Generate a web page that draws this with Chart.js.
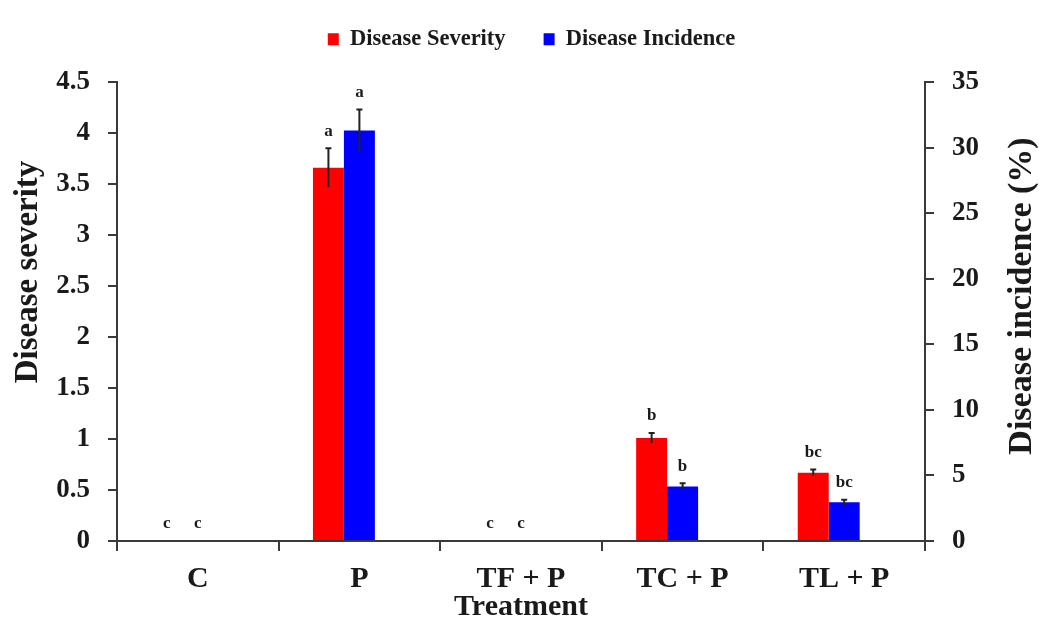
<!DOCTYPE html>
<html>
<head>
<meta charset="utf-8">
<script src="https://cdn.jsdelivr.net/npm/chart.js@4/dist/chart.umd.min.js"></script>
<style>
  html, body { margin: 0; padding: 0; background: #fff; }
  #wrap { width: 1039px; height: 627px; }
</style>
</head>
<body>
<div id="wrap"><canvas id="chart"></canvas></div>
<script>
// Data
const treatments = ["C", "P", "TF + P", "TC + P", "TL + P"];
const severity = [0, 3.66, 0, 1.01, 0.67];
const severityErr = [0, 0.19, 0, 0.05, 0.03];
const severityLetters = ["c", "a", "c", "b", "bc"];
const incidence = [0, 31.3, 0, 4.15, 2.95];
const incidenceErr = [0, 1.6, 0, 0.25, 0.2];
const incidenceLetters = ["c", "a", "c", "b", "bc"];
// empty third slot so the red/blue pair sits left of the category centre, like the original
const spacer = [0, 0, 0, 0, 0];

const FONT = "'Liberation Serif', 'Times New Roman', serif";
const INK = "#1a1a1a";
const AXIS = "#3a3a3a";

// Legend height fixed so the plot starts at the same place as the original
const legendFit = {
  id: "legendFit",
  beforeInit(chart) {
    const fit = chart.legend.fit;
    chart.legend.fit = function () {
      fit.call(this);
      this.height = 92;
    };
  },
};

// Error bars, significance letters and the two y titles
const extras = {
  id: "extras",
  afterDatasetsDraw(chart) {
    const ctx = chart.ctx;
    const sets = [
      { idx: 0, axis: "y", vals: severity, errs: severityErr, letters: severityLetters },
      { idx: 1, axis: "y1", vals: incidence, errs: incidenceErr, letters: incidenceLetters },
    ];
    ctx.save();
    sets.forEach((s) => {
      const meta = chart.getDatasetMeta(s.idx);
      const scale = chart.scales[s.axis];
      meta.data.forEach((bar, i) => {
        const v = s.vals[i];
        const e = s.errs[i];
        const top = scale.getPixelForValue(v + e);
        if (e > 0) {
          const bot = scale.getPixelForValue(v - e);
          ctx.strokeStyle = "#222";
          ctx.lineWidth = 2;
          ctx.beginPath();
          ctx.moveTo(bar.x, bot);
          ctx.lineTo(bar.x, top);
          ctx.moveTo(bar.x - 3, top);
          ctx.lineTo(bar.x + 3, top);
          ctx.stroke();
        }
        ctx.fillStyle = INK;
        ctx.font = "bold 17px " + FONT;
        ctx.textAlign = "center";
        ctx.textBaseline = "middle";
        ctx.fillText(s.letters[i], bar.x, top - 17);
      });
    });

    ctx.font = "bold 33px " + FONT;
    ctx.fillStyle = INK;
    ctx.textAlign = "center";
    ctx.textBaseline = "middle";
    ctx.translate(28, 272);
    ctx.rotate(-Math.PI / 2);
    ctx.fillText("Disease severity", 0, 0);
    ctx.restore();

    ctx.save();
    ctx.font = "bold 34px " + FONT;
    ctx.fillStyle = INK;
    ctx.textAlign = "center";
    ctx.textBaseline = "middle";
    ctx.translate(1022, 296);
    ctx.rotate(-Math.PI / 2);
    ctx.fillText("Disease incidence (%)", 0, 0);
    ctx.restore();
  },
};

new Chart(document.getElementById("chart"), {
  type: "bar",
  data: {
    labels: treatments,
    datasets: [
      {
        label: "Disease Severity",
        data: severity,
        yAxisID: "y",
        backgroundColor: "#ff0000",
        borderWidth: 0,
      },
      {
        label: "Disease Incidence",
        data: incidence,
        yAxisID: "y1",
        backgroundColor: "#0000ff",
        borderWidth: 0,
      },
      {
        label: "spacer",
        data: spacer,
        yAxisID: "y",
        backgroundColor: "rgba(0,0,0,0)",
        borderWidth: 0,
      },
    ],
  },
  options: {
    responsive: true,
    maintainAspectRatio: false,
    animation: false,
    layout: { padding: { top: -10, left: 24, right: 0, bottom: 0 } },
    datasets: {
      bar: { categoryPercentage: 0.575, barPercentage: 1.0 },
    },
    plugins: {
      tooltip: { enabled: false },
      legend: {
        position: "top",
        labels: {
          boxWidth: 11,
          boxHeight: 12,
          padding: 38,
          color: INK,
          font: { family: FONT, size: 22.5, weight: "bold" },
          filter: (item) => item.text !== "spacer",
        },
      },
    },
    scales: {
      x: {
        afterFit: (scale) => { scale.height = 86; },
        grid: {
          display: true,
          drawOnChartArea: false,
          drawTicks: true,
          tickLength: 10,
          color: AXIS,
          lineWidth: 2,
        },
        border: { display: true, color: AXIS, width: 2 },
        ticks: {
          color: INK,
          padding: 10,
          font: { family: FONT, size: 30, weight: "bold" },
        },
        title: {
          display: true,
          text: "Treatment",
          color: INK,
          padding: { top: 0, bottom: 2 },
          font: { family: FONT, size: 30, weight: "bold" },
        },
      },
      y: {
        position: "left",
        min: 0,
        max: 4.5,
        afterFit: (scale) => { scale.width = 93; },
        grid: {
          drawOnChartArea: false,
          drawTicks: true,
          tickLength: 9,
          color: AXIS,
          lineWidth: 2,
        },
        border: { display: true, color: AXIS, width: 2 },
        ticks: {
          stepSize: 0.5,
          color: INK,
          padding: 18,
          callback: (value) => String(value),
          font: { family: FONT, size: 27, weight: "bold" },
        },
      },
      y1: {
        position: "right",
        min: 0,
        max: 35,
        afterFit: (scale) => { scale.width = 114; },
        grid: {
          drawOnChartArea: false,
          drawTicks: true,
          tickLength: 9,
          color: AXIS,
          lineWidth: 2,
        },
        border: { display: true, color: AXIS, width: 2 },
        ticks: {
          stepSize: 5,
          color: INK,
          padding: 18,
          callback: (value) => String(value),
          font: { family: FONT, size: 27, weight: "bold" },
        },
      },
    },
  },
  plugins: [legendFit, extras],
});
</script>
</body>
</html>
